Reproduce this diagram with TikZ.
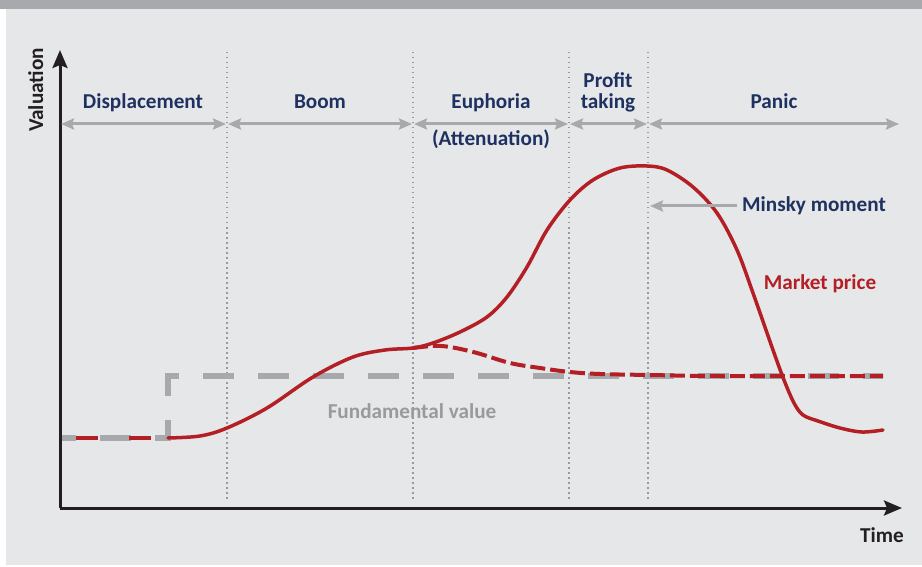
\documentclass[tikz,border=0pt]{standalone}
\usepackage{fontspec}
\setmainfont{Carlito}
\usetikzlibrary{arrows.meta}
\definecolor{bgc}{HTML}{E6E7E9}
\definecolor{band}{HTML}{A7A9AC}
\definecolor{navy}{HTML}{1E3160}
\definecolor{mred}{HTML}{B31F24}
\definecolor{fgray}{HTML}{A7A9AC}
\definecolor{tgray}{HTML}{999A9D}
\definecolor{axisc}{HTML}{231F20}
\tikzset{
  lbl/.style={font=\fontsize{21.2}{22}\selectfont\bfseries, text=navy, inner sep=0pt, anchor=base},
  phase/.style={draw=fgray, line width=3pt, {Stealth[length=13pt,width=11pt,inset=2pt]}-{Stealth[length=13pt,width=11pt,inset=2pt]}, shorten <=1pt, shorten >=1pt},
  divider/.style={draw=tgray, line width=1.5pt, dash pattern=on 1.5pt off 3.5pt},
  axis/.style={draw=axisc, line width=3pt, -{Stealth[length=18pt,width=15pt,inset=3pt]}},
  price/.style={draw=mred, line width=3.5pt, line cap=round},
  pricedash/.style={draw=mred, line width=4pt, dash pattern=on 15pt off 5pt},
  fund/.style={draw=fgray, line width=5.5pt, dash pattern=on 31pt off 24pt, dash phase=15pt},
}
\begin{document}
\begin{tikzpicture}[x=1pt,y=-1pt]
\useasboundingbox (0,0) rectangle (922,567);
\fill[white] (0,0) rectangle (922,567);
\fill[bgc] (6,0) rectangle (922,565);
\fill[band] (0,0) rectangle (922,9);

% coordinates
\coordinate (O) at (60,508);
\coordinate (ytop) at (60,50);
\coordinate (xend) at (902,508);
\foreach \n/\x in {d1/227,d2/413,d3/569,d4/648}{
  \coordinate (\n t) at (\x,52);
  \coordinate (\n b) at (\x,502);
  \coordinate (\n) at (\x,124);
}
\coordinate (d0) at (60,124);
\coordinate (d5) at (900,124);

% dividers
\foreach \n in {d1,d2,d3,d4}{ \draw[divider] (\n t) -- (\n b); }

% fundamental value
\coordinate (f0) at (60,438);
\coordinate (f1) at (168,438);
\coordinate (f2) at (168,376);
\coordinate (f3) at (883,376);
\draw[fund] (f0) -- (f1) -- (f2) -- (f3);
\draw[draw=mred, line width=3.5pt, dash pattern=on 22pt off 31pt, dash phase=37pt] (f0) -- (f1);

% market price (dashed branch)
\draw[pricedash] plot[smooth, tension=0.6] coordinates {(413,348) (433,346) (450,347) (477,353) (510,363) (540,368) (570,372) (600,374) (650,375) (720,376) (883,376)};

% market price
\draw[price] plot[smooth, tension=0.55] coordinates {(168,438) (200,436) (227,428) (267,408) (313,377) (353,357) (385,350) (413,348) (433,343) (460,332) (487,317) (507,297) (527,267) (547,230) (570,200) (593,180) (620,168) (647,166) (667,170) (693,187) (717,213) (737,250) (753,293) (773,350) (784,380) (794,403) (803,415) (818,421) (840,428) (862,432) (883,430)};

% axes
\draw[axis] (O) -- (ytop);
\draw[axis] (O) -- (xend);

% phase arrows
\draw[phase] (d0) -- (d1);
\draw[phase] (d1) -- (d2);
\draw[phase] (d2) -- (d3);
\draw[phase] (d3) -- (d4);
\draw[phase] (d4) -- (d5);

% labels
\node[lbl] (displ) at (143,109) {Displacement};
\node[lbl] (boom) at (320,109) {Boom};
\node[lbl] (euph) at (491,109) {Euphoria};
\node[lbl] (atten) at (491,146) {(Attenuation)};
\node[lbl] (profit) at (608,88) {Profit};
\node[lbl] (taking) at (608,109) {taking};
\node[lbl] (panic) at (774,109) {Panic};
\node[lbl, anchor=base west] (minsky) at (742,212) {Minsky moment};
\node[lbl, text=mred] (market) at (820,289) {Market price};
\node[lbl, text=tgray] (fundl) at (412,418) {Fundamental value};
\node[lbl, text=axisc] (timel) at (882,542) {Time};
\node[lbl, text=axisc, rotate=90] (vall) at (43,90) {Valuation};

\coordinate (mk) at (650,206);
\draw[draw=fgray, line width=3pt, -{Stealth[length=13pt,width=11pt,inset=2pt]}] (737,206) -- (mk);
\end{tikzpicture}
\end{document}
